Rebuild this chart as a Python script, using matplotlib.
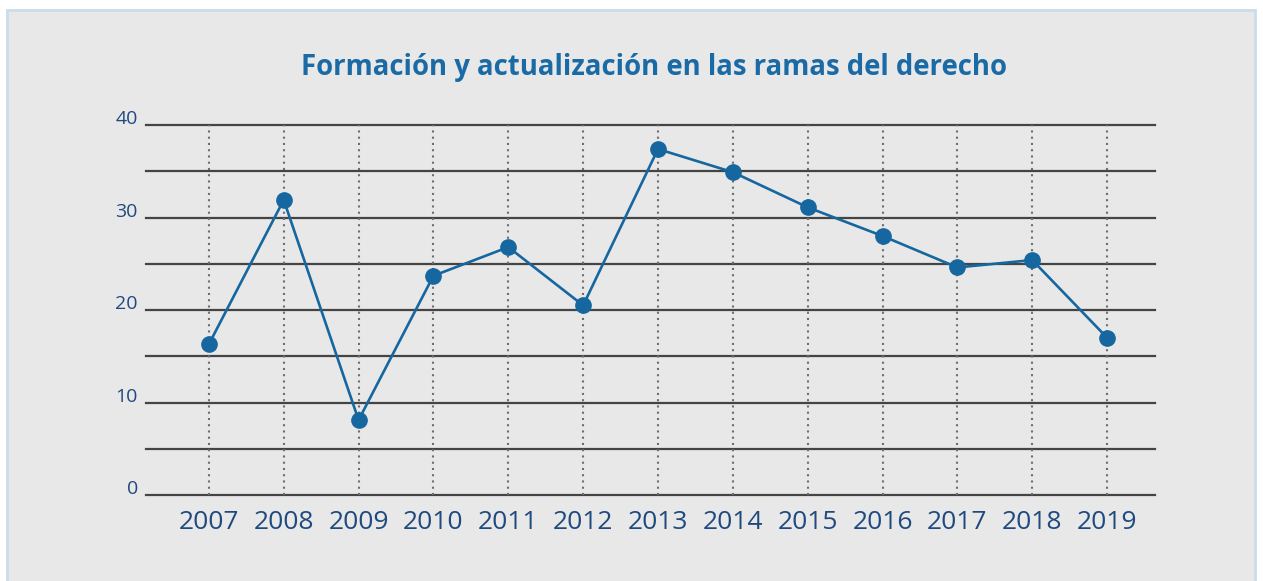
import numpy as np
import matplotlib.pyplot as plt
from matplotlib.patches import Rectangle

years = [2007, 2008, 2009, 2010, 2011, 2012, 2013, 2014, 2015, 2016, 2017, 2018, 2019]
values = [16.3, 31.9, 8.1, 23.7, 26.8, 20.5, 37.4, 34.9, 31.1, 28.0, 24.6, 25.4, 17.0]
y_labels = [0, 10, 20, 30, 40]
title = 'Formación y actualización en las ramas del derecho'

plt.rcParams['font.family'] = ['Open Sans', 'DejaVu Sans']

fig = plt.figure(figsize=(12.63, 5.81), dpi=100)
fig.patch.set_facecolor('white')
# grey panel with light blue border (behind the axes)
panel = Rectangle((7 / 1263, -0.05), 1248 / 1263, 1 - 10 / 581 + 0.05,
                  transform=fig.transFigure, facecolor='#e8e8e8',
                  edgecolor='#c9dcec', linewidth=2, zorder=-10)
fig.add_artist(panel)

ax = fig.add_axes([146 / 1263, 1 - 495 / 581, (1155 - 146) / 1263, (495 - 125) / 581])
ax.set_zorder(5)
ax.set_facecolor('none')
ax.set_xlim(2006.16, 2019.64)
ax.set_ylim(0, 40)
for s in ax.spines.values():
    s.set_visible(False)

# horizontal grid every 5
for v in np.arange(0, 41, 5):
    ax.axhline(v, color='#444444', linewidth=1.6, zorder=1, clip_on=False)
# dotted verticals
for yr in years:
    ax.plot([yr, yr], [0, 40], color='#6e6e6e', linewidth=1.5, linestyle=(0, (1, 2.0)),
            zorder=1, clip_on=False)

ax.plot(years, values, color='#16679f', linewidth=1.9, marker='o', markersize=11, zorder=3,
        clip_on=False)

ax.set_xticks(years)
ax.set_xticklabels([str(y) for y in years], fontsize=19, color='#1f4a80')
ax.tick_params(axis='x', length=0, pad=11)
ax.set_yticks([])
for v in y_labels:
    ax.text(-0.008, v + 0.1, str(v), transform=ax.get_yaxis_transform(), ha='right',
            va='baseline', fontsize=14, color='#1f4a80')

fig.text(654 / 1263, 1 - 68 / 581, title, ha='center', va='center', fontsize=19.8,
         fontweight='bold', color='#1a6aa6')

fig.savefig('out.png', dpi=100)
